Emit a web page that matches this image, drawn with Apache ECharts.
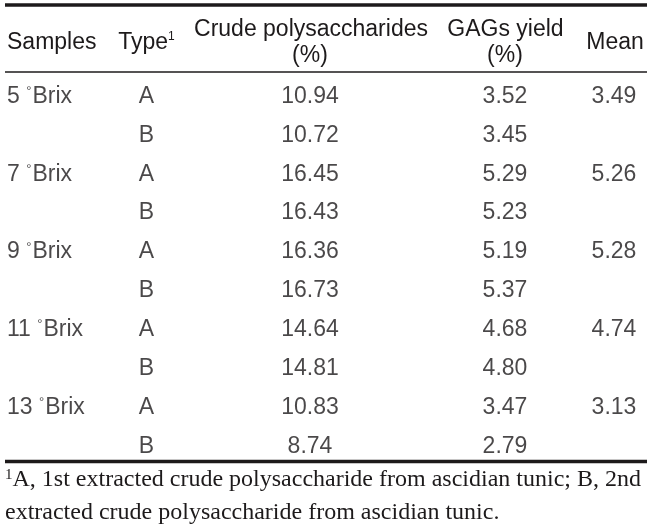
<!DOCTYPE html>
<html>
<head>
<meta charset="utf-8">
<script src="https://cdn.jsdelivr.net/npm/echarts@6/dist/echarts.min.js"></script>
<style>
  html, body { margin: 0; padding: 0; background: #fff; }
  #main { width: 657px; height: 530px; }
</style>
</head>
<body>
<div id="main"></div>
<script>
// 表格数据
const brixLevels = [5, 7, 9, 11, 13];
const types = ['A', 'B'];
const crudeA = [10.94, 16.45, 16.36, 14.64, 10.83];
const crudeB = [10.72, 16.43, 16.73, 14.81, 8.74];
const gagsA = [3.52, 5.29, 5.19, 4.68, 3.47];
const gagsB = [3.45, 5.23, 5.37, 4.80, 2.79];
const means = [3.49, 5.26, 5.28, 4.74, 3.13];
const headers = ['Samples', 'Type', 'Crude polysaccharides', 'GAGs yield', 'Mean'];
const footnote = ['A, 1st extracted crude polysaccharide from ascidian tunic; B, 2nd',
  'extracted crude polysaccharide from ascidian tunic.'];

// 版式
const INK = '#1d1a1b';
const SANS = '"Liberation Sans", Arial, sans-serif';
const SERIF = '"Liberation Serif", "Times New Roman", serif';
const COL = { sample: 7, type: 146.5, crude: 310, gags: 505, mean: 614 };

// 行：每个浓度两行 (A/B)
const rows = [];
brixLevels.forEach(b => types.forEach(t => rows.push(b + t)));

const chart = echarts.init(document.getElementById('main'), null, { renderer: 'canvas' });

function textSeries(name, x, values, fmt, align) {
  return {
    name: name,
    type: 'scatter',
    symbolSize: 1,
    itemStyle: { color: 'rgba(0,0,0,0)' },
    silent: true,
    data: values.map((v, i) => v == null ? null : { value: [x, rows[i]], raw: v }),
    label: {
      show: true,
      position: 'inside',
      align: align || 'center',
      verticalAlign: 'middle',
      color: INK,
      fontFamily: SANS,
      fontSize: 23,
      formatter: p => fmt(p.data.raw),
      rich: {
        deg: { fontSize: 13, color: INK, fontFamily: SANS, verticalAlign: 'top', padding: [0, 1, 0, 0] }
      }
    }
  };
}

const sampleCol = [];
const typeCol = [];
const crudeCol = [];
const gagsCol = [];
const meanCol = [];
brixLevels.forEach((b, i) => {
  sampleCol.push(b, null);
  typeCol.push('A', 'B');
  crudeCol.push(crudeA[i], crudeB[i]);
  gagsCol.push(gagsA[i], gagsB[i]);
  meanCol.push(means[i], null);
});

const fix2 = v => v.toFixed(2);

function headerText(text, x, y, align) {
  return {
    type: 'text',
    silent: true,
    style: {
      text: text, x: x, y: y,
      align: align || 'center', verticalAlign: 'middle',
      fill: INK, font: '23px ' + SANS,
      rich: { sup: { fontSize: 12, fontFamily: SANS, fill: INK, verticalAlign: 'top' } }
    }
  };
}

function rule(y, w) {
  return {
    type: 'line', silent: true,
    shape: { x1: 5, y1: y, x2: 647, y2: y },
    style: { stroke: INK, lineWidth: w }
  };
}

const option = {
  animation: false,
  backgroundColor: '#fff',
  grid: { left: 0, top: 77, width: 657, height: 389 },
  xAxis: { type: 'value', min: 0, max: 657, show: false },
  yAxis: { type: 'category', data: rows, inverse: true, show: false },
  series: [
    textSeries('sample', COL.sample, sampleCol, v => v + ' {deg|°}Brix', 'left'),
    textSeries('type', COL.type, typeCol, v => v),
    textSeries('crude', COL.crude, crudeCol, fix2),
    textSeries('gags', COL.gags, gagsCol, fix2),
    textSeries('mean', COL.mean, meanCol, fix2)
  ],
  graphic: [
    rule(5, 3.5),
    rule(72, 1.5),
    rule(461.5, 3.5),
    headerText(headers[0], 7, 42.5, 'left'),
    headerText(headers[1] + '{sup|1}', 146.5, 42.5),
    headerText(headers[2], 311, 29.5),
    headerText('(%)', 310, 56),
    headerText(headers[3], 505.5, 29.5),
    headerText('(%)', 505, 56),
    headerText(headers[4], 615, 42.5),
    {
      type: 'text', silent: true,
      style: {
        text: '{sup|1}' + footnote[0], x: 5, y: 479.5,
        align: 'left', verticalAlign: 'middle',
        fill: INK, font: '24px ' + SERIF,
        rich: { sup: { fontSize: 15, fontFamily: SERIF, fill: INK, verticalAlign: 'top' } }
      }
    },
    {
      type: 'text', silent: true,
      style: {
        text: footnote[1], x: 5, y: 512.5,
        align: 'left', verticalAlign: 'middle',
        fill: INK, font: '24px ' + SERIF
      }
    }
  ]
};

chart.setOption(option);
</script>
</body>
</html>
